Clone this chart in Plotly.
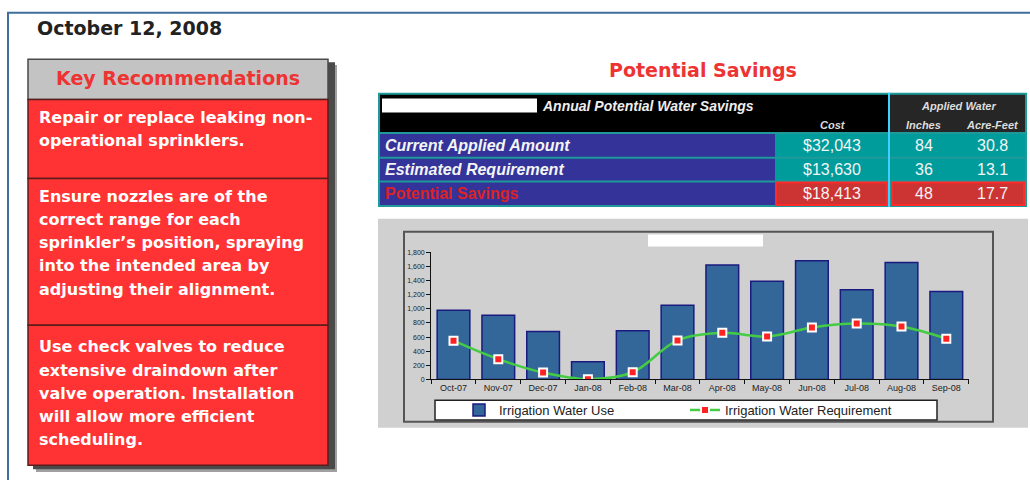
import plotly.graph_objects as go

W, H = 1030, 483

# ---------------- data ----------------
report_date = "October 12, 2008"
panel_title = "Key Recommendations"
recommendations = [
    ["Repair or replace leaking non-", "operational sprinklers."],
    ["Ensure nozzles are of the", "correct range for each",
     "sprinkler\u2019s position, spraying", "into the intended area by",
     "adjusting their alignment."],
    ["Use check valves to reduce", "extensive draindown after",
     "valve operation. Installation", "will allow more efficient",
     "scheduling."],
]
savings_title = "Potential Savings"
table_header = "Annual Potential Water Savings"
applied_header = "Applied Water"
col_headers = ["Cost", "Inches", "Acre-Feet"]
row_labels = ["Current Applied Amount", "Estimated Requirement", "Potential Savings"]
cost = [32043, 13630, 18413]
inches = [84, 36, 48]
acre_feet = [30.8, 13.1, 17.7]

months = ["Oct-07", "Nov-07", "Dec-07", "Jan-08", "Feb-08", "Mar-08",
          "Apr-08", "May-08", "Jun-08", "Jul-08", "Aug-08", "Sep-08"]
water_use = [980, 910, 680, 250, 690, 1050, 1620, 1390, 1680, 1270, 1655, 1245]
water_requirement = [550, 288, 98, 5, 102, 553, 660, 609, 735, 791, 749, 577]
y_ticks = [0, 200, 400, 600, 800, 1000, 1200, 1400, 1600, 1800]
series_names = ["Irrigation Water Use", "Irrigation Water Requirement"]


# ---------------- helpers ----------------
def X(p):
    return p / W


def Y(p):
    return 1 - p / H


def rect(x0, y0, x1, y1, fill, line=None, lw=0, layer="below"):
    return dict(type="rect", xref="paper", yref="paper",
                x0=X(x0), x1=X(x1), y0=Y(y1), y1=Y(y0),
                fillcolor=fill, line=dict(color=line or fill, width=lw),
                layer=layer)


def seg(x0, y0, x1, y1, color, lw, layer="below"):
    return dict(type="line", xref="paper", yref="paper",
                x0=X(x0), x1=X(x1), y0=Y(y0), y1=Y(y1),
                line=dict(color=color, width=lw), layer=layer)


def txt(x, y, s, size, color, family="Liberation Sans", xanchor="center",
        bold=False, italic=False):
    if bold:
        s = "<b>" + s + "</b>"
    if italic:
        s = "<i>" + s + "</i>"
    shift = 2 if family == "DejaVu Sans" else 0
    return dict(xref="paper", yref="paper", x=X(x), y=Y(y), text=s,
                showarrow=False, xanchor=xanchor, yanchor="middle",
                yshift=shift,
                font=dict(size=size, color=color, family=family))


shapes = []
ann = []

# page frame
shapes.append(seg(7, 9, 1030, 9, "#3f6f9f", 2))
shapes.append(seg(8, 9, 8, 483, "#3f6f9f", 2))

ann.append(txt(35, 26, report_date, 19, "#222222", "DejaVu Sans", "left", bold=True))

# ---------------- key recommendations panel ----------------
shapes.append(rect(36, 62, 337, 475, "#a0a0a0"))
shapes.append(rect(33, 59, 335, 472, "#4a4a4a"))
shapes.append(rect(28, 56, 328, 97, "#c3c3c3", "#4a4a4a", 1.5))
ann.append(txt(178, 77, panel_title, 19, "#ee3333", "DejaVu Sans", bold=True))
box_edges = [97, 177, 326, 468]
first_line = [117, 197, 350]
for i, lines in enumerate(recommendations):
    top, bot = box_edges[i], box_edges[i + 1]
    shapes.append(rect(28, top, 328, bot, "#ff3333", "#5a1c1c", 1.5))
    for j, line in enumerate(lines):
        ann.append(txt(37, first_line[i] + 23.6 * j, line, 16, "#ffffff",
                       "DejaVu Sans", "left", bold=True))

# ---------------- savings table ----------------
ann.append(txt(703, 69, savings_title, 19, "#ee3333", "DejaVu Sans", bold=True))
shapes.append(rect(378, 90, 1027, 206, "#1e9a9a"))
shapes.append(rect(380, 92, 888, 130, "#000000"))
shapes.append(rect(890, 92, 1025, 130, "#262626"))
shapes.append(rect(382, 96, 537, 110, "#ffffff"))
ann.append(txt(540, 103, table_header, 14, "#eeeeee", xanchor="left", bold=True, italic=True))
ann.append(txt(833, 123, col_headers[0], 11, "#dddddd", bold=True, italic=True))
ann.append(txt(958, 104, applied_header, 11, "#dddddd", bold=True, italic=True))
ann.append(txt(923, 123, col_headers[1], 11, "#dddddd", bold=True, italic=True))
ann.append(txt(992, 123, col_headers[2], 11, "#dddddd", bold=True, italic=True))

row_edges = [(132, 155), (157, 179), (181, 204)]
for i, (t, b) in enumerate(row_edges):
    cy = (t + b) / 2
    shapes.append(rect(380, t, 775, b, "#333399"))
    last = i == len(row_labels) - 1
    if last:
        shapes.append(rect(776, t, 887, b, "#cc3333", "#ff2a2a", 2))
        shapes.append(rect(892, t, 1024, b, "#cc3333", "#ff2a2a", 2))
        ann.append(txt(383, cy, row_labels[i], 16, "#dd2222", xanchor="left", bold=True))
    else:
        shapes.append(rect(775, t, 888, b, "#009c9c"))
        shapes.append(rect(890, t, 1025, b, "#009c9c"))
        ann.append(txt(383, cy, row_labels[i], 16, "#f4f4f4", xanchor="left", bold=True, italic=True))
    ann.append(txt(832, cy, "${:,}".format(cost[i]), 16, "#f4f4f4"))
    ann.append(txt(924, cy, str(inches[i]), 16, "#f4f4f4"))
    ann.append(txt(992, cy, "{:.1f}".format(acre_feet[i]), 16, "#f4f4f4"))
shapes.append(seg(889, 90, 889, 206, "#3fd0ff", 2))

# ---------------- chart panel ----------------
shapes.append(rect(378, 218, 1028, 430, "#d0d0d0"))
shapes.append(rect(404, 231, 993, 424, "rgba(0,0,0,0)", "#555555", 2))
shapes.append(rect(648, 234, 763, 246, "#ffffff"))
shapes.append(rect(435, 402, 937, 422, "#ffffff", "#222222", 1.5))

fig = go.Figure()
fig.add_trace(go.Bar(
    x=months, y=water_use, name=series_names[0],
    marker=dict(color="#336699", line=dict(color="#1a1a80", width=1.5)),
))
fig.add_trace(go.Scatter(
    x=months, y=water_requirement, name=series_names[1], mode="lines+markers",
    line=dict(color="#44cc44", width=2.5, shape="spline", smoothing=1),
    marker=dict(symbol="square", size=8, color="#ff2222",
                line=dict(color="#ffffff", width=2)),
))

fig.update_layout(
    width=W, height=H, margin=dict(l=0, r=0, t=0, b=0),
    paper_bgcolor="#ffffff", plot_bgcolor="rgba(0,0,0,0)",
    bargap=0.27, shapes=shapes, annotations=ann,
    showlegend=True,
    legend=dict(orientation="h", x=X(459), xanchor="left", y=Y(412),
                yanchor="middle", bgcolor="rgba(0,0,0,0)", borderwidth=0,
                entrywidth=181, entrywidthmode="pixels",
                font=dict(family="Liberation Sans", size=13, color="#222222")),
    xaxis=dict(domain=[X(431.1), X(968.7)], range=[-0.5, 11.5],
               type="category", showline=True, linecolor="#111111", linewidth=1,
               ticks="outside", tickson="boundaries", ticklen=4,
               tickcolor="#111111", showgrid=False,
               tickfont=dict(family="Liberation Sans", size=9, color="#222222")),
    yaxis=dict(domain=[Y(381), Y(252)], range=[0, 1800], tickvals=y_ticks,
               tickformat=",d", showline=True, linecolor="#111111", linewidth=1,
               ticks="outside", ticklen=4, tickcolor="#111111", showgrid=False,
               zeroline=False,
               tickfont=dict(family="Liberation Sans", size=7, color="#222222")),
    font=dict(family="Liberation Sans"),
)

fig.write_html("out.html", config={"displayModeBar": False},
               post_script="document.body.style.margin='0';")
